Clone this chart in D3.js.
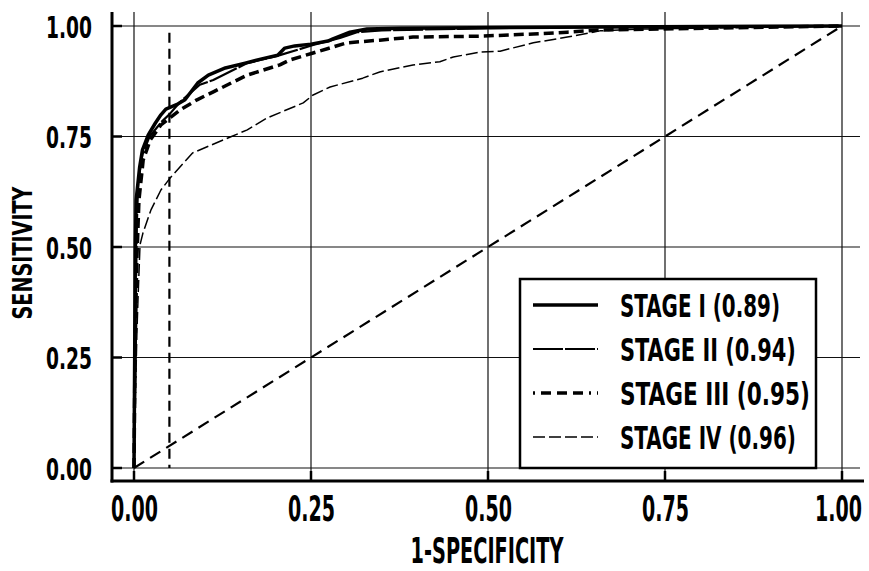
<!DOCTYPE html>
<html>
<head>
<meta charset="utf-8">
<script src="https://cdn.jsdelivr.net/npm/d3@7"></script>
<style>
  body { margin: 0; background: #fff; }
  text { font-family: "Liberation Sans Narrow", "DejaVu Sans Condensed", "Roboto", sans-serif; font-weight: bold; fill: #000; }
</style>
</head>
<body>
<div id="chart"></div>
<script>
// tick values
const xTicks = [0, 0.25, 0.5, 0.75, 1];
const yTicks = [0, 0.25, 0.5, 0.75, 1];

// ROC curves: [1-specificity, sensitivity]
const stage1 = [[0,0],[0.001,0.26],[0.002,0.505],[0.003,0.606],[0.008,0.681],[0.012,0.72],[0.02,0.753],
  [0.03,0.78],[0.038,0.799],[0.045,0.812],[0.06,0.822],[0.072,0.833],[0.09,0.871],[0.105,0.889],[0.129,0.905],
  [0.157,0.916],[0.179,0.925],[0.203,0.934],[0.213,0.95],[0.227,0.955],[0.25,0.959],[0.274,0.966],
  [0.281,0.971],[0.305,0.986],[0.329,0.993],[0.376,0.995],[0.658,0.998],[1,1]];
const stage2 = [[0,0],[0.002,0.3],[0.004,0.55],[0.006,0.65],[0.012,0.71],[0.022,0.75],[0.04,0.785],
  [0.05,0.8],[0.065,0.828],[0.093,0.867],[0.112,0.878],[0.16,0.916],[0.206,0.934],[0.253,0.957],
  [0.291,0.973],[0.315,0.986],[0.35,0.99],[0.5,0.995],[0.66,0.998],[1,1]];
const stage3 = [[0,0],[0.0015,0.267],[0.004,0.47],[0.007,0.606],[0.013,0.697],[0.023,0.742],[0.038,0.776],
  [0.052,0.794],[0.065,0.81],[0.089,0.833],[0.112,0.851],[0.16,0.889],[0.206,0.912],[0.22,0.923],
  [0.253,0.939],[0.301,0.962],[0.347,0.968],[0.394,0.975],[0.489,0.977],[0.564,0.982],[0.612,0.986],
  [0.658,0.991],[1,1]];
const stage4 = [[0,0],[0.002,0.15],[0.004,0.3],[0.0056,0.38],[0.0085,0.505],[0.0127,0.532],[0.024,0.584],
  [0.038,0.629],[0.052,0.658],[0.083,0.713],[0.136,0.749],[0.16,0.765],[0.188,0.792],[0.239,0.826],
  [0.253,0.844],[0.277,0.862],[0.323,0.882],[0.347,0.896],[0.394,0.912],[0.432,0.919],[0.451,0.93],
  [0.489,0.941],[0.517,0.943],[0.564,0.962],[0.612,0.975],[0.658,0.989],[0.715,0.993],[1,1]];

const legendLabels = ["STAGE I (0.89)", "STAGE II (0.94)", "STAGE III (0.95)", "STAGE IV (0.96)"];
const cutoffX = 0.05;     // vertical reference line
const cutoffTop = 0.985;

const W = 869, H = 571;
const x = d3.scaleLinear().domain([0, 1]).range([134, 842]);
const y = d3.scaleLinear().domain([0, 1]).range([468, 26]);
const plotLeft = 112, plotBottom = 481, plotTop = 12, plotRight = 860;

const svg = d3.select("#chart").append("svg")
  .attr("width", W).attr("height", H);

// squeeze text horizontally to a given width (condensed look)
function fit(sel, w) {
  sel.each(function(d, i) {
    const t = d3.select(this);
    const tx = +t.attr("x") || 0;
    const target = typeof w === "function" ? w(d, i) : w;
    const k = target / this.getComputedTextLength();
    t.attr("x", 0).attr("transform", `translate(${tx},0) scale(${k},1)`);
  });
}

// grid
svg.append("g").selectAll("line").data(xTicks).join("line")
  .attr("x1", d => x(d)).attr("x2", d => x(d))
  .attr("y1", plotTop).attr("y2", plotBottom)
  .attr("stroke", "#111").attr("stroke-width", 1.2);
svg.append("g").selectAll("line").data(yTicks).join("line")
  .attr("x1", plotLeft).attr("x2", plotRight)
  .attr("y1", d => y(d)).attr("y2", d => y(d))
  .attr("stroke", "#111").attr("stroke-width", 1.2);

// axes (inward ticks)
const yAxis = d3.axisLeft(y).tickValues(yTicks).tickFormat(d3.format(".2f")).tickSize(0).tickPadding(20);
const gy = svg.append("g").attr("transform", `translate(${plotLeft},0)`).call(yAxis);
gy.select(".domain").remove();
gy.selectAll("text").attr("font-size", 31).attr("dy", "0.36em").call(fit, 46);
svg.append("g").selectAll("line").data(yTicks).join("line")
  .attr("x1", plotLeft).attr("x2", plotLeft + 10)
  .attr("y1", d => y(d)).attr("y2", d => y(d))
  .attr("stroke", "#000").attr("stroke-width", 2.5);

const xAxis = d3.axisBottom(x).tickValues(xTicks).tickFormat(d3.format(".2f")).tickSize(0).tickPadding(15);
const gx = svg.append("g").attr("transform", `translate(0,${plotBottom})`).call(xAxis);
gx.select(".domain").remove();
gx.selectAll("text").attr("font-size", 35).attr("dy", "0.71em")
  .attr("x", d => d === 1 ? -4 : 0).call(fit, 47);
svg.append("g").selectAll("line").data(xTicks).join("line")
  .attr("x1", d => x(d)).attr("x2", d => x(d))
  .attr("y1", plotBottom).attr("y2", plotBottom - 10)
  .attr("stroke", "#000").attr("stroke-width", 2.5);

svg.append("line").attr("x1", plotLeft).attr("x2", plotLeft).attr("y1", plotTop).attr("y2", plotBottom + 1.5)
  .attr("stroke", "#000").attr("stroke-width", 3);
svg.append("line").attr("x1", plotLeft - 1.5).attr("x2", 864).attr("y1", plotBottom).attr("y2", plotBottom)
  .attr("stroke", "#000").attr("stroke-width", 3);

// axis titles
svg.append("text").attr("x", 487).attr("y", 563).attr("text-anchor", "middle")
  .attr("font-size", 35).text("1-SPECIFICITY").call(fit, 153);
svg.append("g").attr("transform", "translate(32,253) rotate(-90)")
  .append("text").attr("text-anchor", "middle")
  .attr("font-size", 27).text("SENSITIVITY").call(fit, 133);

// reference lines
svg.append("line")
  .attr("x1", x(cutoffX)).attr("x2", x(cutoffX)).attr("y1", y(cutoffTop)).attr("y2", y(0))
  .attr("stroke", "#000").attr("stroke-width", 2.2).attr("stroke-dasharray", "10,6");
svg.append("line")
  .attr("x1", x(0)).attr("x2", x(1)).attr("y1", y(0)).attr("y2", y(1))
  .attr("stroke", "#000").attr("stroke-width", 2.2).attr("stroke-dasharray", "12,7");

// curves
const line = d3.line().x(d => x(d[0])).y(d => y(d[1]));
const styles = [
  { data: stage4, w: 1.5, dash: "12,4" },
  { data: stage3, w: 3.5, dash: "10,5" },
  { data: stage2, w: 2.2, dash: "30,2" },
  { data: stage1, w: 3.5, dash: null }
];
svg.append("g").selectAll("path").data(styles).join("path")
  .attr("d", d => line(d.data))
  .attr("fill", "none").attr("stroke", "#000")
  .attr("stroke-width", d => d.w)
  .attr("stroke-dasharray", d => d.dash)
  .attr("stroke-linejoin", "round");

// legend
const leg = svg.append("g");
leg.append("rect").attr("x", 520).attr("y", 279).attr("width", 296).attr("height", 189)
  .attr("fill", "#fff").attr("stroke", "#000").attr("stroke-width", 2.5);
const legStyles = [styles[3], styles[2], styles[1], styles[0]];
const legWidths = [160, 176, 190, 176];
legendLabels.forEach((lab, i) => {
  const cy = 305 + i * 44;
  leg.append("line").attr("x1", 533).attr("x2", 598).attr("y1", cy).attr("y2", cy)
    .attr("stroke", "#000").attr("stroke-width", legStyles[i].w)
    .attr("stroke-dasharray", i === 2 ? "2,6,10,6,10,6,10,6" : legStyles[i].dash);
  leg.append("text").attr("x", 620).attr("y", cy + 12).attr("font-size", 32)
    .text(lab).call(fit, legWidths[i]);
});
</script>
</body>
</html>
